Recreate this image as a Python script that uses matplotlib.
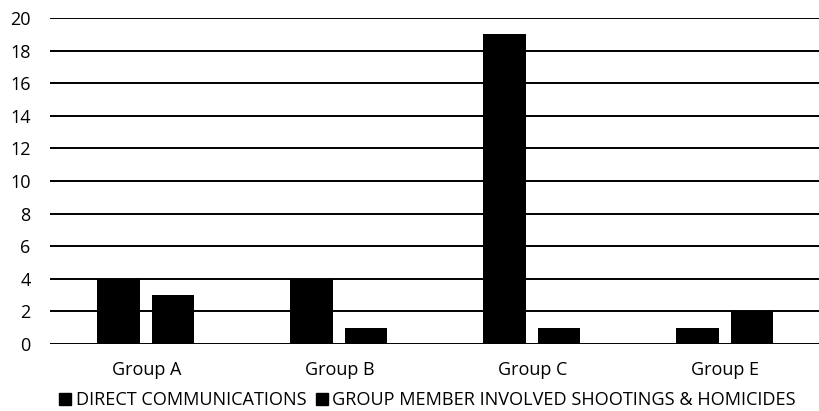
import matplotlib
matplotlib.use("Agg")
import matplotlib.pyplot as plt
from matplotlib.lines import Line2D
import numpy as np

# ── Data ──────────────────────────────────────────────────────────────────────
groups = ["Group A", "Group B", "Group C", "Group E"]
direct_comms = [4, 4, 19, 1]
shootings = [3, 1, 1, 2]
series_labels = ["DIRECT COMMUNICATIONS", "GROUP MEMBER INVOLVED SHOOTINGS & HOMICIDES"]
y_ticks = list(range(0, 21, 2))

plt.rcParams["font.family"] = ["Open Sans", "DejaVu Sans"]

fig = plt.figure(figsize=(8.2, 4.11), dpi=100)
ax = fig.add_axes([50 / 820, 67 / 411, 772 / 820, 326 / 411])

x = np.arange(len(groups))
w = 0.22
ax.bar(x - 0.145, direct_comms, w, color="black", zorder=3)
ax.bar(x + 0.137, shootings, w, color="black", zorder=3)

ax.set_xlim(-0.5, len(groups) - 0.5)
ax.set_ylim(0, 20)
ax.set_yticks(y_ticks)
ax.set_xticks(x)
ax.set_xticklabels(groups)
ax.tick_params(length=0, colors="black")
ax.tick_params(axis="y", pad=14, labelsize=13)
ax.tick_params(axis="x", pad=12, labelsize=13)
for s in ax.spines.values():
    s.set_visible(False)
ax.yaxis.grid(True, color="black", linewidth=1.4, zorder=1)
ax.set_axisbelow(True)

# legend sits under the plot, nearly full width
handles = [Line2D([], [], marker="s", color="black", linestyle="none", markersize=8)
           for _ in series_labels]
fig.legend(handles, series_labels, loc="center left",
           bbox_to_anchor=(60 / 820, 1 - 400 / 411), ncol=2, frameon=False,
           fontsize=13.1, handlelength=0.6, handletextpad=0.3, columnspacing=0.5,
           borderaxespad=0, borderpad=0)

fig.savefig("out.png", dpi=100)
